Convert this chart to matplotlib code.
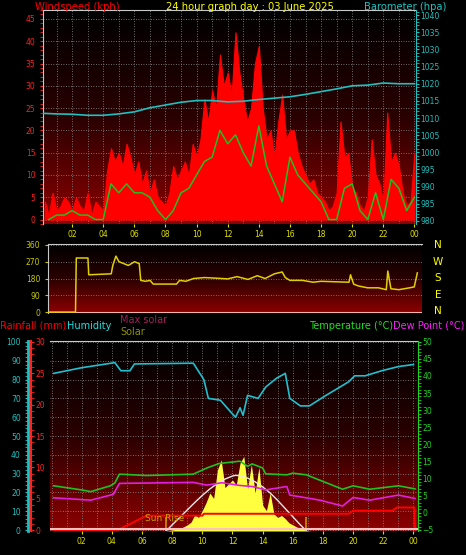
import numpy as np
import matplotlib
matplotlib.use("Agg")
import matplotlib.pyplot as plt
from matplotlib.colors import LinearSegmentedColormap
from matplotlib.ticker import MultipleLocator

# ---- data ----
gust_t = np.arange(0.25, 24.01, 0.25)
gust = [4, 1, 6, 2, 3, 5, 4, 2,
        5, 3, 2, 6, 1, 4, 3, 2,
        11, 16, 13, 15, 12, 17, 14, 10,
        13, 8, 11, 6, 9, 5, 4, 3,
        6, 12, 9, 11, 13, 10, 17, 14,
        18, 27, 22, 29, 25, 37, 30, 33,
        28, 42, 33, 27, 22, 25, 35, 39,
        25, 18, 20, 14, 22, 28, 18, 20,
        20, 15, 12, 10, 8, 9, 6, 5,
        4, 2, 3, 6, 22, 14, 15, 7,
        6, 3, 2, 5, 18, 10, 8, 4,
        24, 13, 15, 12, 6, 3, 4, 15]
avg_t = np.arange(0.5, 24.01, 0.5)
avg = [0, 1, 1, 2, 1, 1, 0, 0,
       8, 6, 8, 6, 6, 5, 2, 0,
       2, 6, 7, 10, 13, 14, 20, 17,
       19, 15, 12, 21, 12, 8, 4, 14,
       10, 8, 6, 4, 0, 0, 7, 8,
       2, 0, 6, 0, 9, 7, 2, 5]
baro_t = list(range(0, 25))
baro = [1011.4, 1011.2, 1011.1, 1010.8, 1010.8, 1011.2, 1011.8, 1013.0, 1013.8,
        1014.6, 1015.1, 1015.1, 1014.7, 1014.9, 1015.4, 1015.8, 1016.2, 1016.9,
        1017.7, 1018.5, 1019.4, 1019.6, 1020.2, 1020.0, 1020.0]

dir_t = [0.4, 2.2, 2.25, 3.0, 3.05, 4.5, 4.6, 4.8, 5.0, 5.3, 5.6, 6.0, 6.3, 6.4, 6.7, 7.0,
         7.2, 8.7, 8.9, 9.3, 9.8, 10.5, 11.2, 12.0, 12.6, 13.3, 13.9, 14.4, 15.0, 15.5,
         15.7, 16.0, 16.8, 17.5, 18.0, 19.8, 19.9, 20.1, 20.4, 21.0, 21.7, 22.2, 22.3,
         22.5, 23.0, 23.7, 24.0, 24.2]
direction = [0, 0, 290, 290, 200, 205, 250, 300, 270, 260, 250, 270, 260, 170, 165, 170,
             150, 150, 170, 165, 180, 185, 182, 178, 190, 175, 195, 180, 205, 215,
             185, 170, 170, 160, 165, 160, 200, 150, 140, 130, 130, 120, 220,
             125, 120, 130, 135, 210]

hum_t = [0.15, 2.0, 4.2, 4.6, 5.2, 5.5, 9.4, 10.1, 10.4, 11.2, 11.8, 12.2, 12.5, 12.7, 13.0,
         13.7, 14.2, 14.9, 15.5, 15.8, 16.5, 17.1, 18.2, 19.7, 20.1, 20.8, 21.9, 23.0, 24.0]
humidity = [83.3, 86.3, 89, 84.7, 84.7, 88.3, 88.7, 80, 70, 69, 63.5, 60, 65, 61, 71.6,
            70, 76, 80.6, 83.3, 70, 66, 66, 71.6, 78.8, 82, 82, 84.7, 86.9, 88]
temp_t = [0.15, 2.0, 2.6, 3.9, 4.2, 4.5, 6.3, 9.4, 10.3, 11.1, 12.5, 13.0, 13.3, 14.0, 14.2,
          15.6, 16.0, 16.9, 19.3, 20.0, 21.1, 23.0, 24.1]
temperature = [7.9, 6.7, 6.2, 7.9, 8.7, 11.3, 10.9, 11.3, 13.1, 14.4, 15.1, 13.6, 14.3,
               13.1, 11.4, 11.1, 11.6, 11.1, 6.9, 7.9, 6.9, 7.9, 7.0]
dew_t = [0.15, 2.6, 4.1, 4.5, 9.4, 10.3, 11.3, 12.5, 13.3, 14.2, 15.6, 15.8, 17.8, 19.3,
         20.0, 21.1, 23.0, 24.1]
dewpoint = [4.4, 3.7, 5.4, 8.6, 8.9, 8.1, 8.8, 8.0, 7.7, 6.7, 7.7, 5.2, 3.7, 2.0,
            4.5, 3.7, 5.2, 4.2]
rain_t = [0.15, 4.4, 6.3, 7.6, 10.0, 10.1, 19.7, 20.0, 22.6, 22.9, 24.05, 24.1]
rain = [0, 0, 2.3, 2.3, 2.3, 2.6, 2.6, 3.1, 3.1, 3.6, 3.6, 0]
maxsolar_t = [7.6, 8, 8.5, 9, 9.5, 10, 10.5, 11, 11.5, 12, 12.2, 12.5, 13, 13.5, 14, 14.5,
              15, 15.5, 16, 16.5, 16.9]
maxsolar = [0, 90, 200, 310, 420, 525, 620, 700, 765, 810, 820, 815, 780, 725, 650, 560,
            450, 330, 210, 90, 0]
solar_t = np.arange(7.5, 17.26, 0.25)
solar = [0, 5, 15, 25, 40, 60, 90, 130, 240, 200, 300, 420, 560, 480, 900, 1050, 640, 700,
         750, 680, 1000, 1100, 620, 980, 560, 940, 380, 300, 560, 250, 200, 230, 180, 120,
         90, 60, 40, 20, 5, 0]
sunrise, sunset = 7.6, 16.9
hour_ticks = list(range(2, 25, 2))
hour_labels = ["02", "04", "06", "08", "10", "12", "14", "16", "18", "20", "22", "00"]

W, H = 466, 555
fig = plt.figure(figsize=(W / 100, H / 100), dpi=100, facecolor="black")
grad = LinearSegmentedColormap.from_list("bg", ["#000000", "#2a0000", "#8c0000"])


def pax(l, t, r, b):
    return fig.add_axes([l / W, 1 - b / H, (r - l) / W, (b - t) / H])


def style(ax, xlim):
    ax.set_facecolor("black")
    ax.imshow(np.linspace(0, 1, 100).reshape(-1, 1), cmap=grad, aspect="auto",
              extent=[0, 1, 0, 1], transform=ax.transAxes, zorder=0)
    ax.set_xlim(*xlim)
    ax.set_xticks(hour_ticks)
    ax.set_xticklabels(hour_labels)
    ax.xaxis.set_minor_locator(MultipleLocator(1))
    ax.grid(True, which="both", axis="x", color="#909090", ls=(0, (1, 2)), lw=0.6)
    ax.grid(True, which="major", axis="y", color="#909090", ls=(0, (1, 2)), lw=0.6)
    ax.tick_params(axis="x", colors="#e0e000", labelsize=5.5, length=2, pad=2)
    for s in ax.spines.values():
        s.set_color("#c8c8c8")
    ax.spines["right"].set_visible(False)
    ax.spines["bottom"].set_visible(False)


def twin_only(ax, side, color):
    for s in ax.spines.values():
        s.set_visible(False)
    ax.spines[side].set_visible(True)
    ax.spines[side].set_color(color)


# ---- top: wind + barometer ----
ax1 = pax(43, 10, 416, 224)
style(ax1, (0.13, 24.1))
ax1.set_ylim(-1, 47)
ax1.set_yticks(range(0, 46, 5))
ax1.yaxis.set_minor_locator(MultipleLocator(1))
ax1.tick_params(axis="y", which="both", colors="#ff2020", labelsize=5.5, length=2)
ax1.fill_between(gust_t, gust, 0, color="#ff0000", lw=0.8, zorder=2)
ax1.plot(avg_t, avg, color="#20c020", lw=1.1, zorder=3)
ax1b = ax1.twinx()
ax1b.set_ylim(979.1, 1041.5)
ax1b.set_yticks(range(980, 1041, 5))
ax1b.yaxis.set_minor_locator(MultipleLocator(1))
ax1b.tick_params(axis="y", which="both", colors="#20c0c0", labelsize=5.5, length=2, pad=1)
twin_only(ax1b, "right", "#20c0c0")
ax1b.plot(baro_t, baro, color="#20c0c0", lw=1.2)
fig.text(35 / W, 1 - 7 / H, "Windspeed (kph)", color="#ff0000", fontsize=7.2, va="center")
fig.text(250 / W, 1 - 7 / H, "24 hour graph day : 03 June 2025", color="#ffff00",
         fontsize=7.2, va="center", ha="center")
fig.text(446 / W, 1 - 7 / H, "Barometer (hpa)", color="#20c0c0", fontsize=7.2,
         va="center", ha="right")

# ---- middle: wind direction ----
ax2 = pax(48, 244, 422, 313)
style(ax2, (0.43, 24.5))
ax2.tick_params(axis="x", labelbottom=False, length=0)
ax2.set_ylim(-5, 365)
ax2.set_yticks([0, 90, 180, 270, 360])
ax2.tick_params(axis="y", colors="#c8c800", labelsize=5.5, length=2)
ax2.grid(False, axis="x", which="both")
ax2.axhline(-3, color="#ffb0b0", lw=1.5)
ax2.plot(dir_t, direction, color="#e0d000", lw=1.1, zorder=3)
for i, c in enumerate("NWSEN"):
    fig.text(438 / W, 1 - (245 + i * 16.5) / H, c, color="#ffff00", fontsize=7.5,
             va="center", ha="center")

# ---- bottom: humidity (base), solar, temp, rain ----
axh = pax(50, 341, 418, 531)
style(axh, (-0.1, 24.3))
axh.set_ylim(-0.5, 100.5)
axh.set_yticks(range(0, 101, 10))
axh.yaxis.set_minor_locator(MultipleLocator(2))
axh.tick_params(axis="y", which="both", colors="#20c0c0", labelsize=5.5, length=2)
axh.spines["left"].set_position(("outward", 15.5))
axh.spines["left"].set_color("#20c0c0")
axh.spines["left"].set_linewidth(2)
axh.plot(hum_t, humidity, color="#20c0d0", lw=1.2, zorder=4)

axs = axh.twinx()
axs.set_ylim(0, 2800)
axs.axis("off")
axs.fill_between(solar_t, solar, 0, color="#ffff40", lw=0, zorder=2)
axs.plot(maxsolar_t, maxsolar, color="#e8e8e8", lw=1.0, zorder=3)
axs.vlines([sunrise, sunset], 0, 210, color="#d09000", lw=1.2)

axt = axh.twinx()
axt.set_ylim(-5.3, 50.2)
axt.set_yticks(range(-5, 51, 5))
axt.yaxis.set_minor_locator(MultipleLocator(1))
axt.tick_params(axis="y", which="both", colors="#20d020", labelsize=5.5, length=2, pad=1)
twin_only(axt, "right", "#20d020")
axt.plot(temp_t, temperature, color="#20c020", lw=1.2, zorder=4)
axt.plot(dew_t, dewpoint, color="#e020e0", lw=1.2, zorder=4)

axr = axh.twinx()
axr.set_ylim(-0.15, 30.15)
axr.set_yticks(range(0, 31, 5))
axr.yaxis.set_minor_locator(MultipleLocator(1))
axr.tick_params(axis="y", which="both", colors="#ff2020", labelsize=5.5, length=2, pad=1)
twin_only(axr, "right", "#ff2020")
axr.spines["right"].set_position(("axes", -19 / 368))
axr.spines["right"].set_linewidth(1.5)
axr.plot(rain_t, rain, color="#ff0000", lw=1.4, zorder=5)
axr.axhline(0.1, color="#ffc0c0", lw=1.5, zorder=5)
axr.text(7.5, 1.5, "Sun Rise", color="#d0a000", fontsize=6.5, ha="center", zorder=6)

fig.text(0, 1 - 326 / H, "Rainfall (mm)", color="#ff0000", fontsize=7, va="center")
fig.text(67 / W, 1 - 326 / H, "Humidity", color="#20e0e0", fontsize=7, va="center")
fig.text(120 / W, 1 - 320 / H, "Max solar", color="#a0205a", fontsize=7, va="center")
fig.text(120 / W, 1 - 332 / H, "Solar", color="#909000", fontsize=7, va="center")
fig.text(393 / W, 1 - 326 / H, "Temperature (°C)", color="#20e020", fontsize=7,
         va="center", ha="right")
fig.text(464 / W, 1 - 326 / H, "Dew Point (°C)", color="#ff20ff", fontsize=7,
         va="center", ha="right")

fig.savefig("out.png", dpi=100, facecolor="black")
